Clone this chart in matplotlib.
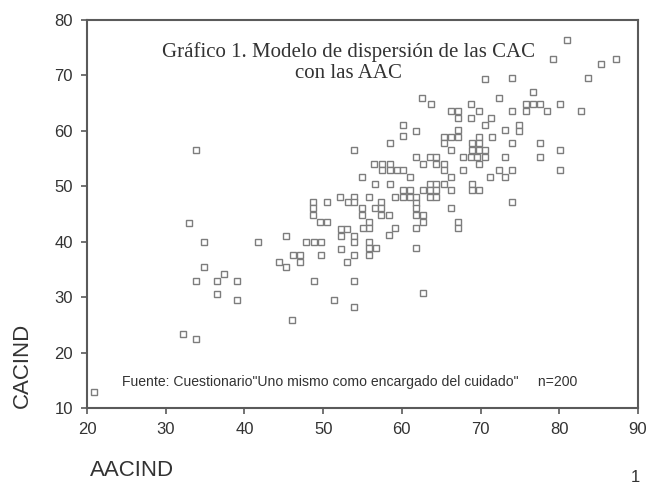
import matplotlib
matplotlib.use("Agg")
import matplotlib.pyplot as plt

# AACIND (x) and CACIND (y) values
aacind = [
    20.9, 32.2, 33.85, 33.0, 33.85, 34.9, 34.9, 33.85, 36.5, 37.4, 36.5, 39.1, 39.1, 41.7,
    44.35, 45.3, 45.3, 46.2, 47.1, 47.1, 47.8, 48.8, 49.7, 49.7, 48.8, 46.1, 48.75, 48.75,
    48.75, 50.45, 49.6, 50.45,
    51.4, 52.3, 52.3, 53.0, 52.3, 53.0, 53.9, 53.9, 53.9, 53.9, 53.9, 52.2, 53.1, 53.95,
    53.95, 55.8, 54.9, 54.9, 56.6, 55.8, 55.8, 55.0, 55.8, 55.8, 55.8, 56.7, 54.9, 56.6,
    53.9,
    57.4, 57.4, 57.4, 58.4, 58.5, 60.1, 61.0, 59.1, 60.1, 61.0, 61.8, 62.7, 61.8, 61.8,
    61.8, 62.7, 62.7, 59.1, 58.4, 61.8, 61.8, 62.7,
    56.5, 57.5, 58.5, 57.5, 58.5, 59.35, 60.2, 61.0,
    58.5, 60.1, 60.1, 61.8, 61.8, 62.6, 62.65,
    63.6, 64.4, 65.3, 63.6, 64.4, 63.6, 64.4, 66.2, 66.2, 67.1, 67.1, 66.2, 63.6, 64.4,
    64.4, 65.3, 65.3, 63.7, 66.2, 67.1, 67.1, 67.1, 65.3, 66.2, 67.1, 65.3, 66.2, 67.8,
    67.8,
    68.75, 69.8, 68.75, 71.3, 70.5, 70.5, 69.8, 68.9, 69.8, 68.9, 69.8, 71.4, 70.6, 68.75,
    69.5, 70.6, 69.8, 71.2, 68.9, 68.9, 69.8, 72.35,
    81.0, 79.2, 85.3, 87.2, 74.05, 83.6, 76.6, 75.8, 76.6, 77.6, 75.8, 74.05, 78.5, 80.1,
    82.7, 73.1, 74.9, 74.9, 74.05, 77.6, 80.1, 73.1, 77.6, 80.1, 72.3, 74.05, 73.1, 74.0,
]
cacind = [
    12.9, 23.3, 22.4, 43.4, 56.5, 39.9, 35.4, 33.0, 33.0, 34.2, 30.6, 33.0, 29.4, 39.9,
    36.4, 35.4, 41.1, 37.6, 37.6, 36.4, 39.9, 39.9, 39.9, 37.6, 33.0, 25.8, 47.2, 46.0,
    44.8, 47.2, 43.6, 43.6,
    29.4, 42.3, 41.1, 42.3, 38.7, 36.4, 41.1, 39.9, 37.6, 33.0, 28.2, 48.1, 47.2, 48.1,
    47.2, 48.1, 46.0, 44.8, 46.0, 43.6, 42.4, 42.4, 40.0, 38.8, 37.6, 38.8, 51.7, 50.5,
    56.5,
    47.2, 46.0, 44.8, 44.8, 50.5, 49.3, 49.3, 48.1, 48.1, 48.1, 48.1, 49.3, 46.9, 46.0,
    44.8, 44.8, 43.6, 42.4, 41.2, 42.4, 38.8, 30.7,
    54.1, 54.1, 54.1, 52.9, 52.9, 52.9, 52.9, 51.7,
    57.75, 61.1, 59.0, 60.0, 55.3, 65.9, 54.1,
    50.5, 50.5, 50.5, 49.3, 49.3, 48.1, 48.1, 49.3, 46.0, 43.6, 42.4, 51.7, 55.3, 55.3,
    54.1, 54.1, 52.9, 64.8, 63.5, 63.5, 62.3, 60.1, 58.95, 58.95, 58.95, 57.75, 56.5, 55.3,
    52.9,
    64.8, 63.5, 62.3, 62.3, 61.1, 69.4, 58.95, 57.75, 57.75, 56.5, 56.5, 58.95, 56.5, 55.3,
    55.3, 55.3, 54.1, 51.7, 50.5, 49.3, 49.3, 65.9,
    76.4, 72.9, 72.1, 73.0, 69.5, 69.5, 67.1, 64.8, 64.8, 64.8, 63.5, 63.5, 63.5, 64.8,
    63.5, 60.15, 61.1, 60.0, 57.75, 57.75, 56.5, 55.35, 55.35, 52.9, 52.9, 52.9, 51.7, 47.2,
]

x_ticks = [20, 30, 40, 50, 60, 70, 80, 90]
y_ticks = [10, 20, 30, 40, 50, 60, 70, 80]

title_text = "Gráfico 1. Modelo de dispersión de las CAC\ncon las AAC"
source_text = 'Fuente: Cuestionario"Uno mismo como encargado del cuidado"     n=200'

W, H = 647, 488
fig = plt.figure(figsize=(W / 100, H / 100), dpi=100)
ax = fig.add_axes([87 / W, 1 - 408 / H, (638 - 87) / W, (408 - 20) / H])

ax.plot(aacind, cacind, linestyle="none", marker="s", markersize=4.9,
        markerfacecolor="white", markeredgecolor="#7d7d7d", markeredgewidth=1.0)

ax.set_xlim(20, 90)
ax.set_ylim(10, 80)
ax.set_xticks(x_ticks)
ax.set_yticks(y_ticks)
for s in ax.spines.values():
    s.set_color("#5a5a5a")
    s.set_linewidth(1.5)
ax.tick_params(direction="out", length=4, width=1.2, color="#5a5a5a",
               labelsize=12, labelcolor="#333333", pad=6)
for lab in ax.get_xticklabels() + ax.get_yticklabels():
    lab.set_family("Liberation Sans")

ax.text(0.474, 0.890, title_text, transform=ax.transAxes, ha="center", va="center",
        family="Liberation Serif", fontsize=15, color="#333333", linespacing=1.15)
fig.text(122 / W, 1 - 382 / H, source_text, ha="left", va="center",
         family="Liberation Sans", fontsize=10.1, color="#333333")

fig.text(22 / W, 1 - 365 / H, "CACIND", rotation=90, ha="center", va="center",
         family="Liberation Sans", fontsize=16, color="#333333")
fig.text(90 / W, 1 - 471 / H, "AACIND", ha="left", va="center",
         family="Liberation Sans", fontsize=16, color="#333333")
fig.text(635 / W, 1 - 477 / H, "1", ha="center", va="center",
         family="Liberation Sans", fontsize=12, color="#333333")

fig.savefig("out.png", dpi=100)
